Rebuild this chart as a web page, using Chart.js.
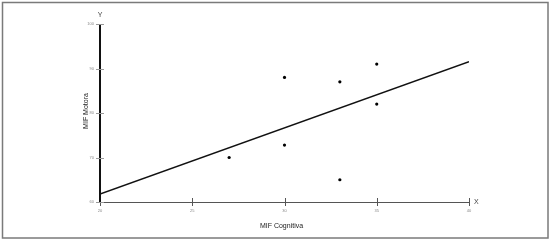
<!DOCTYPE html>
<html>
<head>
<meta charset="utf-8">
<script src="https://cdn.jsdelivr.net/npm/chart.js@4.4.0/dist/chart.umd.min.js"></script>
<style>
  html, body { margin: 0; padding: 0; background: #fff; }
  #wrap { width: 550px; height: 241px; position: relative; }
</style>
</head>
<body>
<div id="wrap"><canvas id="mif-chart"></canvas></div>
<script>
// data
var cognitiva = [27, 30, 30, 33, 33, 35, 35];
var motora    = [70, 72.8, 88, 87, 65, 91, 82];
var lineX = [20, 40];
var lineY = [61.8, 91.5];
var xTicks = [20, 25, 30, 35, 40];
var yTicks = [60, 70, 80, 90, 100];

var points = cognitiva.map(function (c, i) { return { x: c, y: motora[i] }; });
var fit = lineX.map(function (v, i) { return { x: v, y: lineY[i] }; });

var axesPlugin = {
  id: 'axesPlugin',
  beforeDraw: function (chart) {
    var ctx = chart.ctx;
    ctx.save();
    ctx.fillStyle = '#fff';
    ctx.fillRect(0, 0, chart.width, chart.height);
    ctx.strokeStyle = '#7a7a7a';
    ctx.lineWidth = 1.5;
    ctx.strokeRect(2.5, 2.5, 545.5, 235.5);
    ctx.restore();
  },
  afterDatasetsDraw: function (chart) {
    var ctx = chart.ctx;
    var xs = chart.scales.x, ys = chart.scales.y;
    var x0 = xs.getPixelForValue(20), x1 = xs.getPixelForValue(40);
    var y0 = ys.getPixelForValue(60), y1 = ys.getPixelForValue(100);
    ctx.save();
    // x axis
    ctx.strokeStyle = '#555';
    ctx.lineWidth = 1;
    ctx.beginPath();
    ctx.moveTo(x0, y0 + 0.5); ctx.lineTo(x1, y0 + 0.5);
    ctx.stroke();
    xTicks.forEach(function (t) {
      var px = Math.round(xs.getPixelForValue(t)) + 0.5;
      ctx.beginPath();
      ctx.moveTo(px, y0 - 4); ctx.lineTo(px, y0 + 4);
      ctx.stroke();
    });
    // y axis
    ctx.strokeStyle = '#111';
    ctx.lineWidth = 2;
    ctx.beginPath();
    ctx.moveTo(x0, y1); ctx.lineTo(x0, y0);
    ctx.stroke();
    ctx.strokeStyle = '#999';
    ctx.lineWidth = 1;
    yTicks.forEach(function (t) {
      var py = Math.round(ys.getPixelForValue(t)) + 0.5;
      ctx.beginPath();
      ctx.moveTo(x0 - 4, py); ctx.lineTo(x0 + 4, py);
      ctx.stroke();
    });
    // tick labels
    ctx.fillStyle = '#888';
    ctx.font = '4px "Liberation Sans", Arial, sans-serif';
    ctx.textAlign = 'center';
    ctx.textBaseline = 'top';
    xTicks.forEach(function (t) {
      ctx.fillText(String(t), xs.getPixelForValue(t), y0 + 7);
    });
    ctx.textAlign = 'right';
    ctx.textBaseline = 'middle';
    yTicks.forEach(function (t) {
      ctx.fillText(String(t), x0 - 6, ys.getPixelForValue(t));
    });
    // axis letters and titles
    ctx.fillStyle = '#444';
    ctx.font = '7px "Liberation Sans", Arial, sans-serif';
    ctx.textAlign = 'center';
    ctx.fillText('Y', x0, y1 - 9);
    ctx.textAlign = 'left';
    ctx.fillText('X', x1 + 5, y0);
    ctx.fillStyle = '#222';
    ctx.font = '7px "Liberation Sans", Arial, sans-serif';
    ctx.textAlign = 'center';
    ctx.fillText('MIF Cognitiva', (x0 + x1) / 2 - 3, y0 + 24);
    ctx.translate(86, (y0 + y1) / 2 - 2);
    ctx.rotate(-Math.PI / 2);
    ctx.fillText('MIF Motora', 0, 0);
    ctx.restore();
  }
};

new Chart('mif-chart', {
  type: 'scatter',
  data: {
    datasets: [
      {
        data: points,
        backgroundColor: '#000',
        borderColor: '#000',
        pointRadius: 1.6,
        pointBorderWidth: 0
      },
      {
        type: 'line',
        data: fit,
        borderColor: '#111',
        borderWidth: 1.5,
        pointRadius: 0,
        fill: false
      }
    ]
  },
  options: {
    responsive: true,
    maintainAspectRatio: false,
    animation: false,
    layout: { padding: { left: 100, right: 81, top: 24, bottom: 39 } },
    plugins: { legend: { display: false }, tooltip: { enabled: false } },
    scales: {
      x: { type: 'linear', min: 20, max: 40, display: false },
      y: { type: 'linear', min: 60, max: 100, display: false }
    }
  },
  plugins: [axesPlugin]
});
</script>
</body>
</html>
